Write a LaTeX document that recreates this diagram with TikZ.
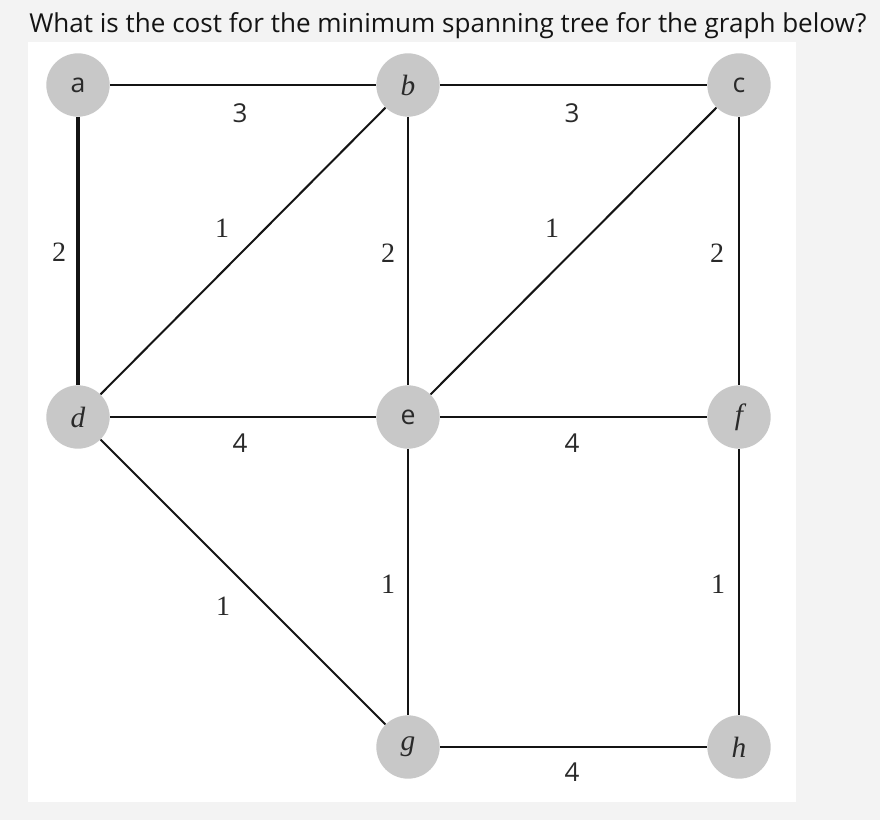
\documentclass[tikz,border=0pt]{standalone}
\usepackage{fontspec}
\setmainfont{Liberation Serif}
\newfontfamily\osans{Open Sans}
\definecolor{pagebg}{HTML}{F3F3F3}
\definecolor{nodefill}{HTML}{C8C8C8}
\definecolor{txt}{HTML}{2A2A2A}
\tikzset{
  vert/.style={circle, fill=nodefill, minimum size=47.5pt, inner sep=0pt, text=txt},
  sansv/.style={vert, font=\osans\fontsize{20}{20}\selectfont},
  serifv/.style={vert, font=\itshape\fontsize{22}{22}\selectfont},
  edge/.style={line width=1.5pt, black!92},
  wserif/.style={font=\fontsize{21}{21}\selectfont, text=txt, inner sep=0pt},
  wsans/.style={font=\osans\fontsize{19.5}{19.5}\selectfont, text=txt, inner sep=0pt}
}
\begin{document}
\begin{tikzpicture}[x=0.75pt,y=-0.75pt]
\fill[pagebg] (0,0) rectangle (880,820);
\useasboundingbox (0,0) rectangle (880,820);
\fill[white] (28,42) rectangle (796,802);
\node[anchor=base west, inner sep=0pt, font=\osans\fontsize{19.55}{19.55}\selectfont, text=black!92] (title) at (29,33) {What is the cost for the minimum spanning tree for the graph below?};
\node[sansv] (a) at (78,85) {a};
\node[serifv] (b) at (408,85) {b};
\node[sansv] (c) at (739,85) {c};
\node[serifv] (d) at (78,417) {d};
\node[sansv] (e) at (408,417) {e};
\node[serifv] (f) at (739,417) {f};
\node[serifv] (g) at (408,747) {g};
\node[serifv] (h) at (739,747) {h};
\draw[edge] (a) -- (b);
\draw[edge] (b) -- (c);
\draw[edge, line width=2.4pt] (a) -- (d);
\draw[edge] (b) -- (e);
\draw[edge] (c) -- (f);
\draw[edge] (d) -- (b);
\draw[edge] (e) -- (c);
\draw[edge] (d) -- (e);
\draw[edge] (e) -- (f);
\draw[edge] (d) -- (g);
\draw[edge] (e) -- (g);
\draw[edge] (f) -- (h);
\draw[edge] (g) -- (h);
\node[wsans] (wab) at (240,113) {3};
\node[wsans] (wbc) at (572,113) {3};
\node[wserif] (wad) at (59,252) {2};
\node[wserif] (wbd) at (222,228) {1};
\node[wserif] (wbe) at (388,253) {2};
\node[wserif] (wce) at (552,228) {1};
\node[wserif] (wcf) at (717,253) {2};
\node[wsans] (wde) at (240,443) {4};
\node[wsans] (wef) at (572,443) {4};
\node[wserif] (wdg) at (223,606) {1};
\node[wserif] (weg) at (388,584) {1};
\node[wserif] (wfh) at (718,584) {1};
\node[wsans] (wgh) at (572,772) {4};
\end{tikzpicture}
\end{document}
